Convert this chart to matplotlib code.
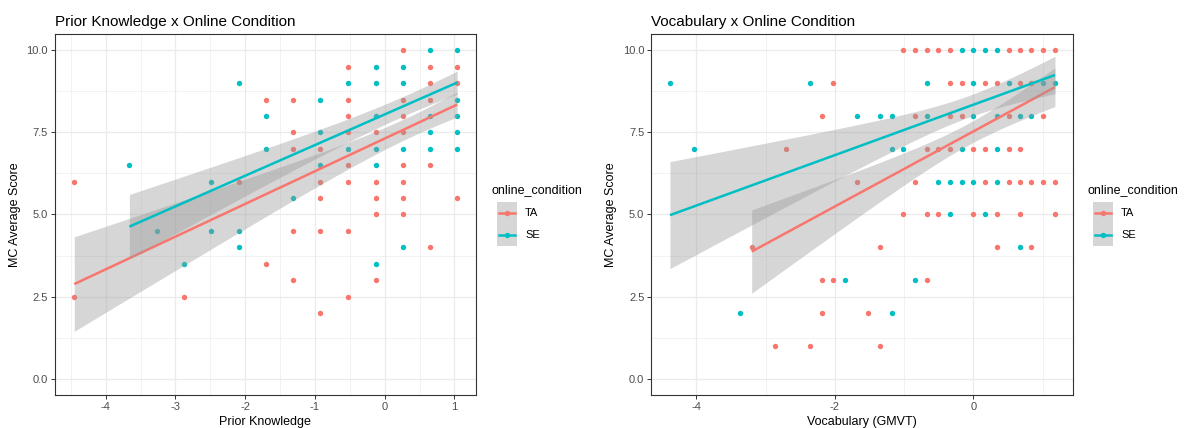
"""
MC average score vs. prior knowledge and vocabulary, split by online condition.

Recreates a two-panel ggplot-style chart (geom_point + geom_smooth(method='lm')).
The visible points overplot many duplicates, so the smooth lines and their 95%
bands are taken from the picture (end values and half-widths) instead of refit.
"""
import numpy as np
import matplotlib.pyplot as plt

# ---- Panel 1: Prior Knowledge ----
pk_ta_x = [-4.45, -4.45, -2.88, -2.09, -1.70, -1.70,
           -1.31, -1.31, -1.31, -1.31, -1.31,
           -0.92, -0.92, -0.92, -0.92, -0.92,
           -0.53, -0.53, -0.53, -0.53, -0.53, -0.53, -0.53, -0.53,
           -0.13, -0.13, -0.13, -0.13, -0.13,
           0.26, 0.26, 0.26, 0.26, 0.26, 0.26, 0.26, 0.26,
           0.65, 0.65, 0.65, 0.65, 0.65,
           1.04, 1.04, 1.04]
pk_ta_y = [6.0, 2.5, 2.5, 6.0, 8.5, 3.5,
           8.5, 7.5, 7.0, 4.5, 3.0,
           7.0, 6.0, 5.5, 4.5, 2.0,
           9.5, 8.5, 8.0, 7.5, 6.5, 6.0, 4.5, 2.5,
           7.5, 6.0, 5.5, 5.0, 3.0,
           10.0, 8.5, 8.0, 7.5, 6.5, 6.0, 5.5, 5.0,
           9.5, 9.0, 8.5, 6.5, 4.0,
           9.5, 9.0, 5.5]

pk_se_x = [-3.66, -3.27, -2.88, -2.49, -2.49, -2.09, -2.09, -2.09,
           -1.70, -1.70, -1.31,
           -0.92, -0.92, -0.92,
           -0.53, -0.53,
           -0.13, -0.13, -0.13, -0.13, -0.13, -0.13,
           0.26, 0.26, 0.26, 0.26,
           0.65, 0.65, 0.65, 0.65,
           1.04, 1.04, 1.04, 1.04, 1.04]
pk_se_y = [6.5, 4.5, 3.5, 6.0, 4.5, 9.0, 4.5, 4.0,
           8.0, 7.0, 5.5,
           8.5, 7.5, 6.5,
           9.0, 7.0,
           9.5, 9.0, 8.0, 7.0, 6.5, 3.5,
           9.5, 9.0, 7.0, 4.0,
           10.0, 8.0, 7.5, 7.0,
           10.0, 8.5, 8.0, 7.5, 7.0]

# smooth: x_start, x_end, y_start, y_end,
# band half-width at start, at end, and its narrowest
pk_ta_fit = [-4.45, 1.04, 2.88, 8.35, 1.44, 0.38, 0.32]
pk_se_fit = [-3.66, 1.04, 4.63, 9.02, 0.98, 0.35, 0.30]

# ---- Panel 2: Vocabulary (GMVT) ----
voc_ta_x = [-3.20, -2.87, -2.70, -2.36, -2.19, -2.19, -2.19, -2.02, -2.02,
            -1.68, -1.52, -1.35, -1.35,
            -1.01, -1.01,
            -0.84, -0.84, -0.84,
            -0.67, -0.67, -0.67, -0.67,
            -0.51, -0.51, -0.51,
            -0.34, -0.34, -0.34, -0.34,
            -0.17, -0.17,
            0.00, 0.00,
            0.17, 0.17, 0.17,
            0.34, 0.34, 0.34,
            0.51, 0.51, 0.51, 0.51,
            0.67, 0.67, 0.67, 0.67, 0.67,
            0.84, 0.84, 0.84, 0.84,
            1.01, 1.01, 1.01,
            1.18, 1.18, 1.18]
voc_ta_y = [4, 1, 7, 1, 8, 3, 2, 9, 3,
            6, 2, 4, 1,
            10, 5,
            10, 8, 6,
            10, 7, 5, 3,
            10, 7, 5,
            10, 9, 8, 7,
            9, 8,
            7, 5,
            9, 7, 6,
            9, 5, 4,
            10, 8, 7, 6,
            10, 9, 7, 6, 5,
            10, 9, 6, 4,
            10, 8, 6,
            10, 6, 5]

voc_se_x = [-4.38, -4.04, -3.37, -2.36, -1.85,
            -1.68, -1.35, -1.18, -1.18, -1.18, -1.01,
            -0.84, -0.67, -0.67,
            -0.51, -0.34, -0.34,
            -0.17, -0.17, -0.17,
            0.00, 0.00, 0.00, 0.00,
            0.17, 0.17,
            0.34, 0.34, 0.34, 0.34,
            0.51, 0.67, 0.67, 0.84, 1.01, 1.18]
voc_se_y = [9, 7, 2, 9, 3,
            8, 8, 8, 7, 2, 7,
            3, 9, 8,
            6, 6, 5,
            10, 7, 6,
            10, 9, 8, 6,
            10, 5,
            10, 8, 7, 6,
            9, 8, 4, 8, 9, 9]

voc_ta_fit = [-3.20, 1.18, 3.87, 8.88, 1.27, 0.59, 0.33]
voc_se_fit = [-4.38, 1.18, 4.98, 9.25, 1.63, 0.57, 0.33]

groups = ['TA', 'SE']
group_colors = {'TA': '#F8766D', 'SE': '#00BFC4'}
y_ticks = [0.0, 2.5, 5.0, 7.5, 10.0]

plt.rcParams['font.family'] = ['Liberation Sans', 'DejaVu Sans']


def smooth_band(fit, n_grid=80):
    """
    Rebuild a geom_smooth(method='lm') line and 95% band from read values.

    The lm confidence half-width has the form sqrt(h0^2 + k^2 (x - xbar)^2);
    xbar and k follow from the half-widths read at both ends.
    """
    x0, x1, y0, y1, h_start, h_end, h_min = fit
    grid = np.linspace(x0, x1, n_grid)
    line = y0 + (y1 - y0) * (grid - x0) / (x1 - x0)
    a = np.sqrt(h_start ** 2 - h_min ** 2)
    b = np.sqrt(h_end ** 2 - h_min ** 2)
    xbar = (a * x1 + b * x0) / (a + b)
    k = a / (xbar - x0)
    half = np.sqrt(h_min ** 2 + (k * (grid - xbar)) ** 2)
    return grid, line, line - half, line + half


def draw_panel(ax, data, fits, title, xlabel, xticks, xminor, xlim):
    """Draw one theme_bw-like panel."""
    ax.set_facecolor('white')
    for g in groups:
        x, y = data[g]
        ax.scatter(x, y, s=15, color=group_colors[g], linewidths=0, zorder=2)
    for i, g in enumerate(groups):
        grid, line, lo, hi = smooth_band(fits[g])
        ax.fill_between(grid, lo, hi, color='#999999', alpha=0.4,
                        linewidth=0, zorder=3 + 2 * i)
        ax.plot(grid, line, color=group_colors[g], linewidth=1.8,
                solid_capstyle='butt', zorder=4 + 2 * i)

    ax.set_xlim(*xlim)
    ax.set_ylim(-0.5, 10.5)
    ax.set_xticks(xticks)
    ax.set_xticks(xminor, minor=True)
    ax.set_yticks(y_ticks)
    ax.set_yticks([1.25, 3.75, 6.25, 8.75], minor=True)
    ax.set_xticklabels([f'{v:g}' for v in xticks])
    ax.set_yticklabels([f'{v:.1f}' for v in y_ticks])
    ax.grid(which='major', color='#EBEBEB', linewidth=0.9, zorder=0)
    ax.grid(which='minor', color='#EBEBEB', linewidth=0.45, zorder=0)
    ax.set_axisbelow(True)
    ax.tick_params(which='major', length=3, width=0.7, color='#333333',
                   labelsize=8, labelcolor='#4D4D4D', pad=2)
    ax.tick_params(which='minor', length=0)
    for sp in ax.spines.values():
        sp.set_color('#333333')
        sp.set_linewidth(0.8)
    ax.set_title(title, loc='left', fontsize=11, pad=6)
    ax.set_xlabel(xlabel, fontsize=9, labelpad=3)
    ax.set_ylabel('MC Average Score', fontsize=9, labelpad=4)


def draw_legend(fig, x0, y0):
    """ggplot-like legend: title plus grey keys with point+line glyphs."""
    W, H = fig.get_size_inches() * fig.dpi
    fig.text(x0 / W, 1 - y0 / H, 'online_condition', fontsize=9,
             va='center', ha='left')
    key_w, key_h = 20, 22
    for i, g in enumerate(groups):
        ky = y0 + 12 + i * key_h
        kax = fig.add_axes([(x0 + 5) / W, 1 - (ky + key_h) / H,
                            key_w / W, key_h / H])
        kax.set_xlim(0, 1)
        kax.set_ylim(0, 1)
        kax.axis('off')
        kax.add_patch(plt.Rectangle((0, 0), 1, 1, color='#999999',
                                    alpha=0.4, linewidth=0))
        kax.plot([0.1, 0.9], [0.5, 0.5], color=group_colors[g], linewidth=1.8)
        kax.scatter([0.5], [0.5], s=15, color=group_colors[g], linewidths=0)
        fig.text((x0 + 33) / W, 1 - (ky + key_h / 2) / H, g, fontsize=8,
                 va='center', ha='left')


fig = plt.figure(figsize=(11.9, 4.28), dpi=100)

ax1 = fig.add_axes([0.046, 0.0771, 0.354, 0.8435])
draw_panel(ax1, {'TA': (pk_ta_x, pk_ta_y), 'SE': (pk_se_x, pk_se_y)},
           {'TA': pk_ta_fit, 'SE': pk_se_fit},
           'Prior Knowledge x Online Condition', 'Prior Knowledge',
           [-4, -3, -2, -1, 0, 1], [-4.5, -3.5, -2.5, -1.5, -0.5, 0.5],
           (-4.73, 1.31))

ax2 = fig.add_axes([0.5473, 0.0771, 0.3546, 0.8435])
draw_panel(ax2, {'TA': (voc_ta_x, voc_ta_y), 'SE': (voc_se_x, voc_se_y)},
           {'TA': voc_ta_fit, 'SE': voc_se_fit},
           'Vocabulary x Online Condition', 'Vocabulary (GMVT)',
           [-4, -2, 0], [-3, -1, 1], (-4.65, 1.444))

draw_legend(fig, 492, 190)
draw_legend(fig, 1088, 190)

fig.savefig('out.png', dpi=100)
